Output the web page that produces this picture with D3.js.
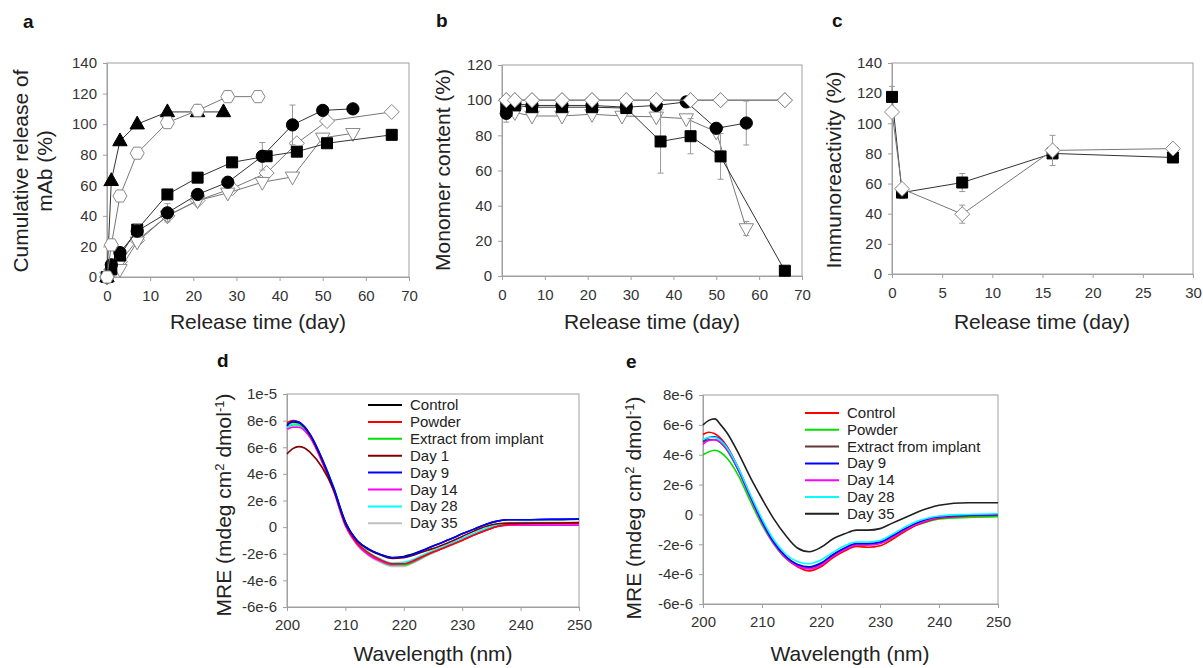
<!DOCTYPE html>
<html><head><meta charset="utf-8">
<script src="https://cdn.jsdelivr.net/npm/d3@7"></script>
<style>
body{margin:0;background:#fff;}
text{font-family:"Liberation Sans",Arial,sans-serif;}
</style></head>
<body><svg id="c" width="1203" height="668"></svg>
<script>
// ---------------- DATA ----------------
// Panel a: cumulative release (%)
const aTriDays = [0,1,3,7,14,21,27];
const aTriVals = [0,63,89,100,108,108,108];
const aHexDays = [0,1,3,7,14,21,28,35];
const aHexVals = [0,21,53,81,101,109,118,118];
const aCirDays = [0,1,3,7,14,21,28,36,43,50,57];
const aCirVals = [0,8,16,30,42,54,62,79,99.5,109,110];
const aCirErr  = [0,1,2,4,6,2,2,9,13,2,2];
const aSqDays  = [0,1,3,7,14,21,29,37,44,51,66];
const aSqVals  = [0,5,14,31,54,65,75,79,82,87.5,93];
const aDiaDays = [0,1,3,7,14,21,29,37,44,51,66];
const aDiaVals = [0,5,10,24,40,50,58,68,87.5,102,108];
const aTdnDays = [0,1,3,7,14,21,28,36,43,50,57];
const aTdnVals = [0,2,5,23,40,50,55,62,65.5,91,94];
const aXTicks = [0,10,20,30,40,50,60,70];
const aYTicks = [0,20,40,60,80,100,120,140];

// Panel b: monomer content (%)
const bDiaDays = [1,3,7,14,21,29,36,44,51,66];
const bDiaVals = [100,100,100,100,100,100,100,100,100,100];
const bCirDays = [1,3,7,14,21,29,36,43,50,57];
const bCirVals = [92.5,98,97,97,97,96,97,99,84,87];
const bCirErr  = [5,1,1,1,1,1,2,1,3,12.5];
const bSqDays  = [1,3,7,14,21,29,37,44,51,66];
const bSqVals  = [97,97,96,96,96,95.5,76.5,79.5,68,3];
const bSqErr   = [1,1,1,1,1,1,18,10,13,1];
const bTdnDays = [1,3,7,14,21,28,36,43,50,57];
const bTdnVals = [98,93,91,91,92,91,90.5,89.5,82,27];
const bTdnErr  = [1,1,1,1,1,1,1,1,1,4];
const bXTicks = [0,10,20,30,40,50,60,70];
const bYTicks = [0,20,40,60,80,100,120];

// Panel c: immunoreactivity (%)
const cDays    = [0,1,7,16,28];
const cSqVals  = [117.5,54,60.7,80,77.3];
const cSqErr   = [7,4,6,2,2];
const cDiaVals = [107.5,56.5,39.7,82,83.2];
const cDiaErr  = [2,3,6,10,2];
const cXTicks = [0,5,10,15,20,25,30];
const cYTicks = [0,20,40,60,80,100,120,140];

// Panels d and e: CD spectra, MRE in units of 1e-6
const wl = [200,201,202,203,204,206,208,210,212,214,216,218,220,222,224,226,228,230,232,234,236,238,240,245,250];
const dNames = ["Control","Powder","Extract from implant","Day 1","Day 9","Day 14","Day 28","Day 35"];
const dColors = ["#000000","#ff0000","#00e000","#800000","#0000ff","#ff00ff","#00ffff","#c0c0c0"];
const dControl = [7.7,7.9,7.85,7.5,6.9,5.1,2.9,0.3,-1.0,-1.65,-2.05,-2.28,-2.2,-1.95,-1.6,-1.25,-0.9,-0.5,-0.15,0.2,0.45,0.55,0.55,0.55,0.6];
const dPowder  = [7.85,8.0,7.9,7.5,6.85,5.0,2.8,0.2,-1.2,-1.95,-2.45,-2.75,-2.75,-2.45,-2.05,-1.7,-1.35,-1.0,-0.6,-0.25,0.05,0.2,0.25,0.3,0.3];
const dExtract = [7.5,7.7,7.7,7.4,6.8,5.0,2.8,0.2,-1.25,-2.05,-2.55,-2.85,-2.85,-2.55,-2.1,-1.7,-1.35,-0.95,-0.55,-0.2,0.1,0.2,0.25,0.25,0.25];
const dDay1    = [5.5,5.9,6.05,5.95,5.6,4.5,2.8,0.4,-1.05,-1.7,-2.1,-2.35,-2.3,-2.05,-1.75,-1.45,-1.1,-0.7,-0.3,0.05,0.25,0.3,0.3,0.3,0.35];
const dDay9    = [7.6,7.95,7.9,7.55,6.95,5.15,2.95,0.35,-1.0,-1.65,-2.05,-2.3,-2.25,-2.0,-1.6,-1.25,-0.9,-0.5,-0.15,0.2,0.45,0.55,0.55,0.6,0.6];
const dDay14   = [7.35,7.5,7.5,7.25,6.7,4.9,2.7,0.1,-1.3,-2.1,-2.55,-2.8,-2.75,-2.5,-2.05,-1.7,-1.35,-0.95,-0.6,-0.25,0.05,0.15,0.15,0.15,0.15];
const dDay28   = [7.5,7.75,7.75,7.45,6.9,5.15,3.0,0.4,-1.1,-1.9,-2.4,-2.7,-2.65,-2.35,-1.95,-1.6,-1.25,-0.85,-0.45,-0.1,0.2,0.3,0.35,0.35,0.35];
const dDay35   = [7.3,7.55,7.6,7.3,6.75,4.95,2.75,0.1,-1.35,-2.15,-2.65,-2.95,-2.95,-2.6,-2.15,-1.75,-1.4,-1.0,-0.6,-0.25,0.05,0.15,0.2,0.2,0.2];
const dYTicks = [-6e-6,-4e-6,-2e-6,0,2e-6,4e-6,6e-6,8e-6,1e-5];
const dYLabels = ["-6e-6","-4e-6","-2e-6","0","2e-6","4e-6","6e-6","8e-6","1e-5"];

const eNames = ["Control","Powder","Extract from implant","Day 9","Day 14","Day 28","Day 35"];
const eColors = ["#ff0000","#00e000","#603838","#0000ff","#ff00ff","#00ffff","#202020"];
const eControl = [5.35,5.5,5.4,5.1,4.6,3.1,1.3,-0.4,-1.85,-2.9,-3.5,-3.78,-3.5,-2.9,-2.45,-2.15,-2.2,-2.1,-1.7,-1.2,-0.75,-0.45,-0.25,-0.1,-0.05];
const ePowder  = [4.0,4.2,4.3,4.15,3.8,2.6,0.9,-0.7,-2.0,-2.95,-3.45,-3.62,-3.4,-2.85,-2.4,-2.1,-2.05,-1.95,-1.6,-1.15,-0.75,-0.5,-0.3,-0.2,-0.15];
const eExtract = [4.85,5.0,5.0,4.8,4.35,2.95,1.2,-0.45,-1.85,-2.8,-3.35,-3.55,-3.3,-2.7,-2.3,-2.0,-2.0,-1.9,-1.5,-1.05,-0.65,-0.35,-0.2,-0.05,0.0];
const eDay9    = [4.95,5.15,5.2,5.0,4.5,3.05,1.25,-0.45,-1.85,-2.8,-3.35,-3.5,-3.25,-2.7,-2.25,-1.95,-1.95,-1.85,-1.45,-1.0,-0.6,-0.3,-0.15,-0.05,0.0];
const eDay14   = [4.7,4.95,5.0,4.85,4.4,2.95,1.15,-0.55,-1.95,-2.9,-3.45,-3.65,-3.4,-2.8,-2.35,-2.05,-2.05,-1.95,-1.55,-1.1,-0.7,-0.4,-0.2,-0.05,0.0];
const eDay28   = [5.0,5.15,5.15,4.95,4.5,3.1,1.35,-0.3,-1.7,-2.65,-3.15,-3.3,-3.05,-2.55,-2.1,-1.85,-1.85,-1.75,-1.35,-0.9,-0.5,-0.25,-0.1,0.0,0.05];
const eDay35   = [6.0,6.3,6.4,6.0,5.5,4.1,2.5,1.05,-0.3,-1.4,-2.25,-2.5,-2.2,-1.65,-1.3,-1.05,-1.05,-0.95,-0.6,-0.25,0.1,0.4,0.62,0.78,0.78];
const eYTicks = [-6e-6,-4e-6,-2e-6,0,2e-6,4e-6,6e-6,8e-6];
const eYLabels = ["-6e-6","-4e-6","-2e-6","0","2e-6","4e-6","6e-6","8e-6"];
const wlTicks = [200,210,220,230,240,250];
const UNIT = 1e-6;

// ---------------- DRAWING ----------------
const svg = d3.select("#c");
const FRAME = "#a0a0a0", TXT = "#333";

function makePanel(o){
  const x = d3.scaleLinear().domain(o.xdom).range([o.l,o.r]);
  const y = d3.scaleLinear().domain(o.ydom).range([o.b,o.t]);
  const g = svg.append("g");
  g.append("rect").attr("x",o.l).attr("y",o.t).attr("width",o.r-o.l).attr("height",o.b-o.t)
    .attr("fill","none").attr("stroke",FRAME).attr("stroke-width",1);
  const xa = g.append("g").attr("transform",`translate(0,${o.b})`)
    .call(d3.axisBottom(x).tickValues(o.xticks).tickSize(4).tickPadding(o.xpad||9).tickFormat(d3.format("d")));
  const ya = g.append("g").attr("transform",`translate(${o.l},0)`)
    .call(d3.axisLeft(y).tickValues(o.yticks).tickSize(4).tickPadding(6)
      .tickFormat(o.ylabels ? (d,i)=>o.ylabels[i] : d3.format("d")));
  [xa,ya].forEach(a=>{
    a.select(".domain").attr("stroke",FRAME);
    a.selectAll(".tick line").attr("stroke",FRAME);
    a.selectAll(".tick text").attr("fill",TXT).style("font-size","15px").style("font-family","'Liberation Sans',Arial,sans-serif");
  });
  return {x,y,g};
}

function symPath(type){
  switch(type){
    case "square": {const s=11; return `M${-s/2},${-s/2}h${s}v${s}h${-s}Z`;}
    case "triUp": {const r=8; return `M0,${-r}L${r*0.9},${r*0.6}L${-r*0.9},${r*0.6}Z`;}
    case "triDown": {const r=8; return `M0,${r}L${r*0.9},${-r*0.6}L${-r*0.9},${-r*0.6}Z`;}
    case "diamond": {const r=7.5; return `M0,${-r}L${r},0L0,${r}L${-r},0Z`;}
    case "hex": {const r=7; let p=""; for(let i=0;i<6;i++){const a=Math.PI/3*i; p+=(i?"L":"M")+(r*Math.cos(a)).toFixed(2)+","+(r*Math.sin(a)).toFixed(2);} return p+"Z";}
    case "circle": return d3.symbol(d3.symbolCircle,118)();
  }
}

function series(P, days, vals, type, filled, errs){
  const pts = days.map((d,i)=>({x:d,y:vals[i],e:errs?errs[i]:0}));
  const lineCol = filled ? "#333" : "#777";
  P.g.append("path").datum(pts)
    .attr("d", d3.line().x(d=>P.x(d.x)).y(d=>P.y(d.y)))
    .attr("fill","none").attr("stroke",lineCol).attr("stroke-width",1);
  if(errs){
    const eg = P.g.append("g").attr("stroke","#999").attr("stroke-width",1);
    pts.filter(d=>d.e>1.5).forEach(d=>{
      const cx=P.x(d.x), y1=P.y(d.y+d.e), y2=P.y(d.y-d.e);
      eg.append("line").attr("x1",cx).attr("x2",cx).attr("y1",y1).attr("y2",y2);
      eg.append("line").attr("x1",cx-3).attr("x2",cx+3).attr("y1",y1).attr("y2",y1);
      eg.append("line").attr("x1",cx-3).attr("x2",cx+3).attr("y1",y2).attr("y2",y2);
    });
  }
  P.g.append("g").selectAll("path").data(pts).join("path")
    .attr("d",symPath(type))
    .attr("transform",d=>`translate(${P.x(d.x)},${P.y(d.y)})`)
    .attr("fill", filled ? "#000" : "#fff")
    .attr("stroke", filled ? "#000" : "#888").attr("stroke-width",1);
}

function label(txt,x,y){
  svg.append("text").attr("x",x).attr("y",y).text(txt)
    .style("font-size","19px").style("font-weight","bold").attr("fill","#111");
}
function xTitle(txt,x,y){
  svg.append("text").attr("x",x).attr("y",y).attr("text-anchor","middle").text(txt)
    .style("font-size","21px").attr("fill","#222");
}
function yTitle(txt,x,y){
  return svg.append("text").attr("transform",`translate(${x},${y}) rotate(-90)`)
    .attr("text-anchor","middle").text(txt).style("font-size","21px").attr("fill","#222");
}

// Panel a
const A = makePanel({l:107,r:409,t:63,b:277,xdom:[0,70],ydom:[0,140],xticks:aXTicks,yticks:aYTicks});
series(A,aDiaDays,aDiaVals,"diamond",false);
series(A,aTdnDays,aTdnVals,"triDown",false);
series(A,aSqDays,aSqVals,"square",true);
series(A,aCirDays,aCirVals,"circle",true,aCirErr);
series(A,aTriDays,aTriVals,"triUp",true);
series(A,aHexDays,aHexVals,"hex",false);
label("a",23,28);
xTitle("Release time (day)",258,329);
yTitle("Cumulative release of",28,171);
yTitle("mAb (%)",52,171);

// Panel b
const B = makePanel({l:502,r:802,t:65,b:276,xdom:[0,70],ydom:[0,120],xticks:bXTicks,yticks:bYTicks});
series(B,bDiaDays,bDiaVals,"diamond",false);
series(B,bTdnDays,bTdnVals,"triDown",false,bTdnErr);
series(B,bSqDays,bSqVals,"square",true,bSqErr);
series(B,bCirDays,bCirVals,"circle",true,bCirErr);
series(B,bDiaDays,bDiaVals,"diamond",false);
label("b",436,27);
xTitle("Release time (day)",652,329);
yTitle("Monomer content (%)",450,170);

// Panel c
const C = makePanel({l:892,r:1193,t:63,b:274,xdom:[0,30],ydom:[0,140],xticks:cXTicks,yticks:cYTicks});
series(C,cDays,cSqVals,"square",true,cSqErr);
series(C,cDays,cDiaVals,"diamond",false,cDiaErr);
label("c",832,27);
xTitle("Release time (day)",1042,329);
yTitle("Immunoreactivity (%)",841,170);

// CD panels
function cdPanel(o, names, colors, arrays, legend){
  const P = makePanel(o);
  const line = d3.line().x((d,i)=>P.x(wl[i])).y(d=>P.y(d*UNIT)).curve(d3.curveMonotoneX);
  o.order.forEach(i=>{
    P.g.append("path").datum(arrays[i]).attr("d",line).attr("fill","none")
      .attr("stroke",colors[i]).attr("stroke-width",1.6);
  });
  const lg = svg.append("g");
  names.forEach((n,i)=>{
    const yy = legend.y + i*legend.dy;
    lg.append("line").attr("x1",legend.x).attr("x2",legend.x+34).attr("y1",yy).attr("y2",yy)
      .attr("stroke",colors[i]).attr("stroke-width",2);
    lg.append("text").attr("x",legend.x+42).attr("y",yy+5).text(n)
      .style("font-size","15px").attr("fill","#222");
  });
  return P;
}
function mreTitle(x,y){
  const t = svg.append("text").attr("transform",`translate(${x},${y}) rotate(-90)`)
    .attr("text-anchor","middle").style("font-size","21px").attr("fill","#222");
  t.append("tspan").text("MRE (mdeg cm");
  t.append("tspan").text("2").attr("dy",-7).style("font-size","13px");
  t.append("tspan").text(" dmol").attr("dy",7);
  t.append("tspan").text("-1").attr("dy",-7).style("font-size","13px");
  t.append("tspan").text(")").attr("dy",7);
}

cdPanel({l:287,r:579,t:394,b:607,xdom:[200,250],ydom:[-6e-6,1e-5],xticks:wlTicks,yticks:dYTicks,ylabels:dYLabels,xpad:8,
  order:[7,2,5,6,1,3,0,4]},
  dNames,dColors,[dControl,dPowder,dExtract,dDay1,dDay9,dDay14,dDay28,dDay35],{x:368,y:405,dy:16.9});
label("d",217,367);
xTitle("Wavelength (nm)",433,661);
mreTitle(231,505);

cdPanel({l:703,r:998,t:395,b:604,xdom:[200,250],ydom:[-6e-6,8e-6],xticks:wlTicks,yticks:eYTicks,ylabels:eYLabels,xpad:8,
  order:[1,0,2,4,3,5,6]},
  eNames,eColors,[eControl,ePowder,eExtract,eDay9,eDay14,eDay28,eDay35],{x:805,y:413,dy:16.8});
label("e",626,368);
xTitle("Wavelength (nm)",850,661);
mreTitle(641,508);
</script></body></html>
